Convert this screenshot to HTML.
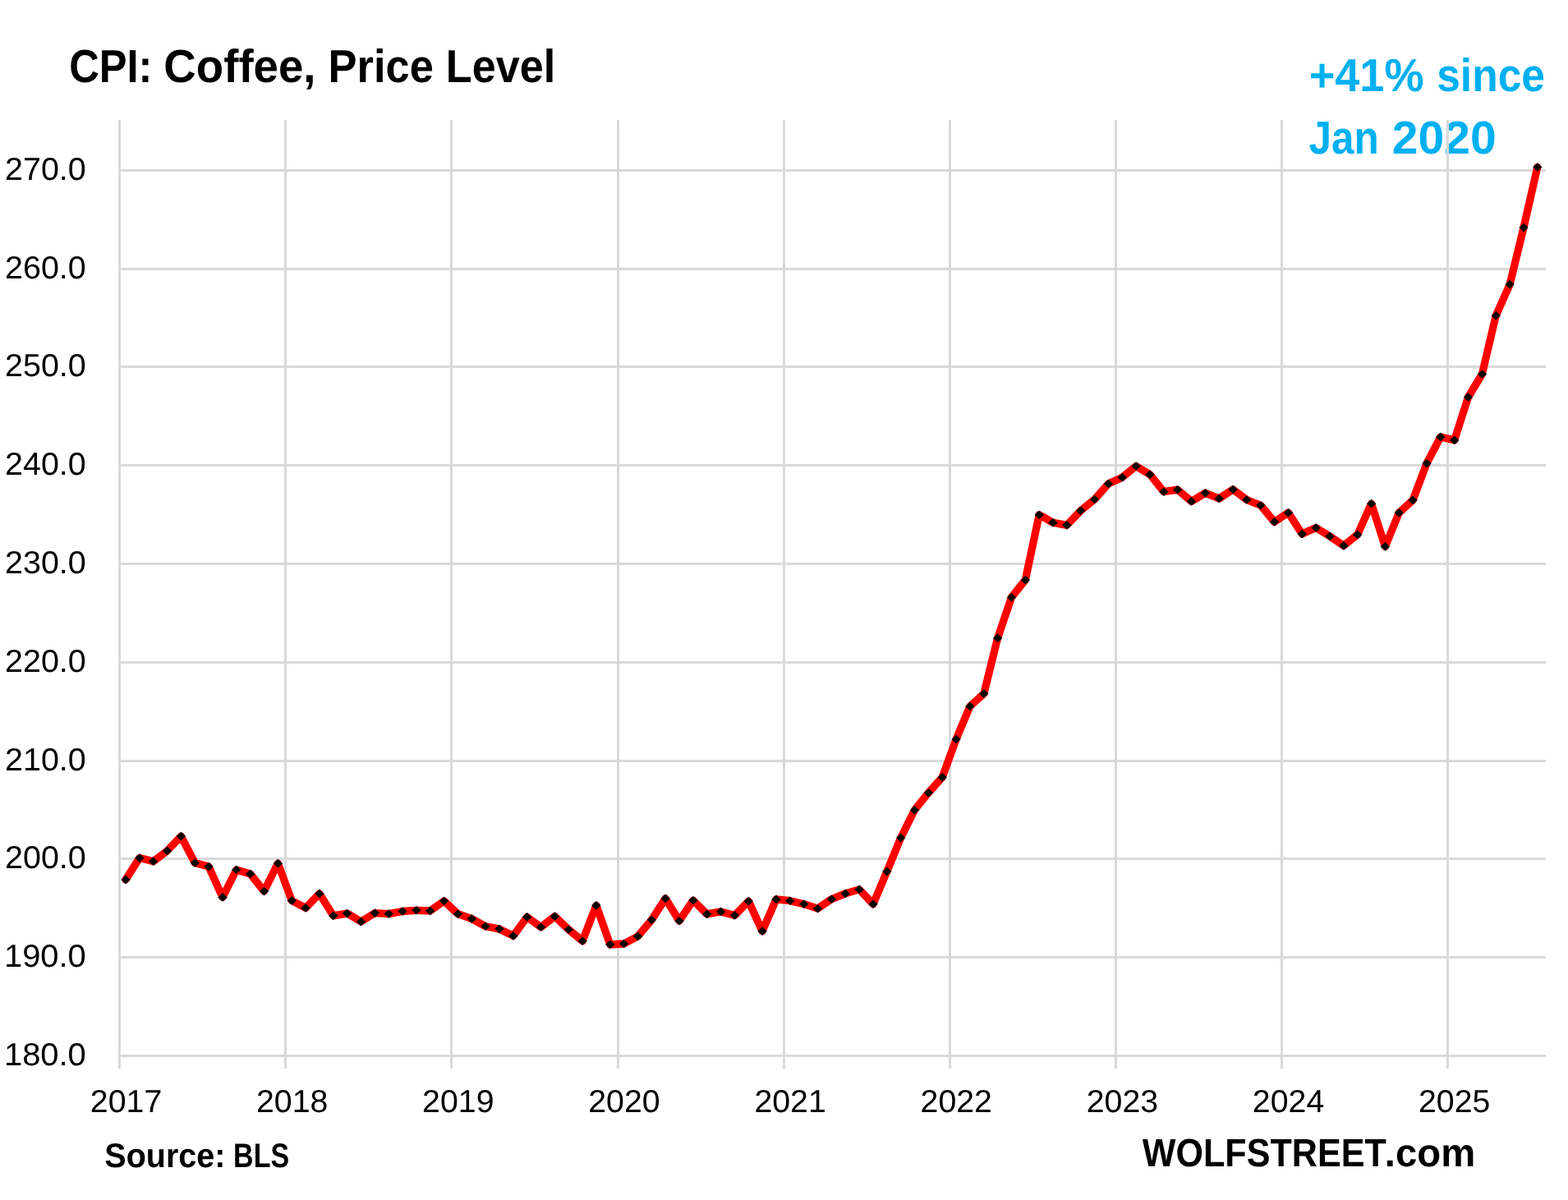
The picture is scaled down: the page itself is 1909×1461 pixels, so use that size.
<!DOCTYPE html><html><head><meta charset="utf-8"><title>CPI: Coffee, Price Level</title>
<style>html,body{margin:0;padding:0;background:#fff;}svg{display:block;}text{font-family:"Liberation Sans",sans-serif;font-kerning:none;white-space:pre;text-rendering:geometricPrecision;}</style></head><body>
<svg width="1909" height="1461" viewBox="0 0 1909 1461">
<rect width="1909" height="1461" fill="#fff"/>
<g font-weight="bold" fill="#00B0F0" font-size="56.5">
<text y="110.7"><tspan x="1593.63" textLength="140.00" lengthAdjust="spacingAndGlyphs">+41%</tspan> <tspan x="1749.19" textLength="131.77" lengthAdjust="spacingAndGlyphs">since</tspan></text>
<text y="187.4"><tspan x="1593.45" textLength="85.11" lengthAdjust="spacingAndGlyphs">Jan</tspan> <tspan x="1694.82" textLength="126.92" lengthAdjust="spacingAndGlyphs">2020</tspan></text>
</g>
<g stroke="#D9D9D9" stroke-width="3" fill="none" shape-rendering="crispEdges">
<line x1="144" y1="207.50" x2="1882" y2="207.50"/>
<line x1="144" y1="327.50" x2="1882" y2="327.50"/>
<line x1="144" y1="446.50" x2="1882" y2="446.50"/>
<line x1="144" y1="566.50" x2="1882" y2="566.50"/>
<line x1="144" y1="686.50" x2="1882" y2="686.50"/>
<line x1="144" y1="806.50" x2="1882" y2="806.50"/>
<line x1="144" y1="926.50" x2="1882" y2="926.50"/>
<line x1="144" y1="1045.50" x2="1882" y2="1045.50"/>
<line x1="144" y1="1165.50" x2="1882" y2="1165.50"/>
<line x1="144" y1="1285.50" x2="1882" y2="1285.50"/>
<line x1="145.50" y1="146" x2="145.50" y2="1300.5"/>
<line x1="347.50" y1="146" x2="347.50" y2="1300.5"/>
<line x1="549.50" y1="146" x2="549.50" y2="1300.5"/>
<line x1="752.50" y1="146" x2="752.50" y2="1300.5"/>
<line x1="954.50" y1="146" x2="954.50" y2="1300.5"/>
<line x1="1156.50" y1="146" x2="1156.50" y2="1300.5"/>
<line x1="1358.50" y1="146" x2="1358.50" y2="1300.5"/>
<line x1="1560.50" y1="146" x2="1560.50" y2="1300.5"/>
<line x1="1762.50" y1="146" x2="1762.50" y2="1300.5"/>
</g>
<g font-size="38.8" fill="#000">
<text y="218.80"><tspan x="6.02" textLength="98.73" lengthAdjust="spacingAndGlyphs">270.0</tspan></text>
<text y="338.59"><tspan x="6.02" textLength="98.73" lengthAdjust="spacingAndGlyphs">260.0</tspan></text>
<text y="458.38"><tspan x="6.02" textLength="98.73" lengthAdjust="spacingAndGlyphs">250.0</tspan></text>
<text y="578.17"><tspan x="6.02" textLength="98.73" lengthAdjust="spacingAndGlyphs">240.0</tspan></text>
<text y="697.96"><tspan x="6.02" textLength="98.73" lengthAdjust="spacingAndGlyphs">230.0</tspan></text>
<text y="817.75"><tspan x="6.02" textLength="98.73" lengthAdjust="spacingAndGlyphs">220.0</tspan></text>
<text y="937.54"><tspan x="6.02" textLength="98.73" lengthAdjust="spacingAndGlyphs">210.0</tspan></text>
<text y="1057.33"><tspan x="6.02" textLength="98.73" lengthAdjust="spacingAndGlyphs">200.0</tspan></text>
<text y="1177.12"><tspan x="4.96" textLength="99.80" lengthAdjust="spacingAndGlyphs">190.0</tspan></text>
<text y="1296.91"><tspan x="4.96" textLength="99.80" lengthAdjust="spacingAndGlyphs">180.0</tspan></text>
<text y="1353.9"><tspan x="109.85" textLength="87.42" lengthAdjust="spacingAndGlyphs">2017</tspan></text>
<text y="1353.9"><tspan x="311.99" textLength="87.42" lengthAdjust="spacingAndGlyphs">2018</tspan></text>
<text y="1353.9"><tspan x="514.13" textLength="87.42" lengthAdjust="spacingAndGlyphs">2019</tspan></text>
<text y="1353.9"><tspan x="716.27" textLength="87.42" lengthAdjust="spacingAndGlyphs">2020</tspan></text>
<text y="1353.9"><tspan x="918.41" textLength="87.42" lengthAdjust="spacingAndGlyphs">2021</tspan></text>
<text y="1353.9"><tspan x="1120.55" textLength="87.42" lengthAdjust="spacingAndGlyphs">2022</tspan></text>
<text y="1353.9"><tspan x="1322.69" textLength="87.42" lengthAdjust="spacingAndGlyphs">2023</tspan></text>
<text y="1353.9"><tspan x="1524.83" textLength="87.42" lengthAdjust="spacingAndGlyphs">2024</tspan></text>
<text y="1353.9"><tspan x="1726.97" textLength="87.42" lengthAdjust="spacingAndGlyphs">2025</tspan></text>
</g>
<polyline points="153.0,1071.1 169.9,1044.6 186.7,1048.7 203.6,1035.9 220.4,1018.1 237.3,1050.6 254.1,1055.1 271.0,1092.4 287.8,1059.0 304.7,1064.0 321.5,1085.0 338.4,1051.2 355.2,1096.5 372.1,1105.4 388.9,1088.0 405.8,1114.9 422.6,1112.1 439.5,1122.1 456.3,1111.6 473.2,1112.6 490.0,1109.5 506.9,1108.3 523.7,1109.0 540.6,1097.0 557.4,1112.7 574.3,1118.6 591.1,1127.8 608.0,1131.1 624.8,1139.4 641.7,1116.4 658.5,1128.7 675.4,1115.7 692.2,1131.7 709.1,1145.7 725.9,1102.4 742.8,1150.0 759.6,1149.0 776.5,1140.0 793.3,1120.0 810.2,1093.9 827.0,1121.2 843.9,1096.2 860.7,1112.9 877.6,1109.9 894.4,1114.4 911.3,1097.2 928.1,1133.7 945.0,1094.9 961.8,1096.7 978.7,1100.7 995.5,1106.2 1012.4,1094.7 1029.3,1087.9 1046.1,1082.9 1063.0,1100.8 1079.8,1061.1 1096.7,1020.1 1113.5,986.2 1130.4,965.2 1147.2,946.4 1164.1,900.0 1180.9,859.9 1197.8,844.6 1214.6,776.9 1231.5,727.2 1248.3,706.2 1265.2,626.7 1282.0,636.4 1298.9,639.4 1315.7,621.7 1332.6,608.0 1349.4,589.0 1366.3,581.2 1383.1,567.5 1400.0,577.7 1416.8,598.7 1433.7,596.2 1450.5,610.4 1467.4,600.2 1484.2,607.0 1501.1,595.9 1517.9,608.5 1534.8,615.3 1551.6,635.4 1568.5,624.2 1585.3,650.1 1602.2,642.6 1619.0,652.9 1635.9,664.4 1652.7,650.9 1669.6,613.2 1686.4,665.4 1703.3,624.2 1720.1,608.9 1737.0,564.2 1753.8,532.0 1770.7,535.9 1787.5,483.5 1804.4,455.5 1821.2,384.3 1838.1,346.3 1855.0,277.1 1871.8,203.5" fill="none" stroke="#FF0000" stroke-width="9.3" stroke-linejoin="round" stroke-linecap="round"/>
<path d="M153.0 1065.8l5.7 5.3l-5.7 5.3l-5.7 -5.3zM169.9 1039.3l5.7 5.3l-5.7 5.3l-5.7 -5.3zM186.7 1043.4l5.7 5.3l-5.7 5.3l-5.7 -5.3zM203.6 1030.6l5.7 5.3l-5.7 5.3l-5.7 -5.3zM220.4 1012.8l5.7 5.3l-5.7 5.3l-5.7 -5.3zM237.3 1045.3l5.7 5.3l-5.7 5.3l-5.7 -5.3zM254.1 1049.8l5.7 5.3l-5.7 5.3l-5.7 -5.3zM271.0 1087.1l5.7 5.3l-5.7 5.3l-5.7 -5.3zM287.8 1053.7l5.7 5.3l-5.7 5.3l-5.7 -5.3zM304.7 1058.7l5.7 5.3l-5.7 5.3l-5.7 -5.3zM321.5 1079.7l5.7 5.3l-5.7 5.3l-5.7 -5.3zM338.4 1045.9l5.7 5.3l-5.7 5.3l-5.7 -5.3zM355.2 1091.2l5.7 5.3l-5.7 5.3l-5.7 -5.3zM372.1 1100.1l5.7 5.3l-5.7 5.3l-5.7 -5.3zM388.9 1082.7l5.7 5.3l-5.7 5.3l-5.7 -5.3zM405.8 1109.6l5.7 5.3l-5.7 5.3l-5.7 -5.3zM422.6 1106.8l5.7 5.3l-5.7 5.3l-5.7 -5.3zM439.5 1116.8l5.7 5.3l-5.7 5.3l-5.7 -5.3zM456.3 1106.3l5.7 5.3l-5.7 5.3l-5.7 -5.3zM473.2 1107.3l5.7 5.3l-5.7 5.3l-5.7 -5.3zM490.0 1104.2l5.7 5.3l-5.7 5.3l-5.7 -5.3zM506.9 1103.0l5.7 5.3l-5.7 5.3l-5.7 -5.3zM523.7 1103.7l5.7 5.3l-5.7 5.3l-5.7 -5.3zM540.6 1091.7l5.7 5.3l-5.7 5.3l-5.7 -5.3zM557.4 1107.4l5.7 5.3l-5.7 5.3l-5.7 -5.3zM574.3 1113.3l5.7 5.3l-5.7 5.3l-5.7 -5.3zM591.1 1122.5l5.7 5.3l-5.7 5.3l-5.7 -5.3zM608.0 1125.8l5.7 5.3l-5.7 5.3l-5.7 -5.3zM624.8 1134.1l5.7 5.3l-5.7 5.3l-5.7 -5.3zM641.7 1111.1l5.7 5.3l-5.7 5.3l-5.7 -5.3zM658.5 1123.4l5.7 5.3l-5.7 5.3l-5.7 -5.3zM675.4 1110.4l5.7 5.3l-5.7 5.3l-5.7 -5.3zM692.2 1126.4l5.7 5.3l-5.7 5.3l-5.7 -5.3zM709.1 1140.4l5.7 5.3l-5.7 5.3l-5.7 -5.3zM725.9 1097.1l5.7 5.3l-5.7 5.3l-5.7 -5.3zM742.8 1144.7l5.7 5.3l-5.7 5.3l-5.7 -5.3zM759.6 1143.7l5.7 5.3l-5.7 5.3l-5.7 -5.3zM776.5 1134.7l5.7 5.3l-5.7 5.3l-5.7 -5.3zM793.3 1114.7l5.7 5.3l-5.7 5.3l-5.7 -5.3zM810.2 1088.6l5.7 5.3l-5.7 5.3l-5.7 -5.3zM827.0 1115.9l5.7 5.3l-5.7 5.3l-5.7 -5.3zM843.9 1090.9l5.7 5.3l-5.7 5.3l-5.7 -5.3zM860.7 1107.6l5.7 5.3l-5.7 5.3l-5.7 -5.3zM877.6 1104.6l5.7 5.3l-5.7 5.3l-5.7 -5.3zM894.4 1109.1l5.7 5.3l-5.7 5.3l-5.7 -5.3zM911.3 1091.9l5.7 5.3l-5.7 5.3l-5.7 -5.3zM928.1 1128.4l5.7 5.3l-5.7 5.3l-5.7 -5.3zM945.0 1089.6l5.7 5.3l-5.7 5.3l-5.7 -5.3zM961.8 1091.4l5.7 5.3l-5.7 5.3l-5.7 -5.3zM978.7 1095.4l5.7 5.3l-5.7 5.3l-5.7 -5.3zM995.5 1100.9l5.7 5.3l-5.7 5.3l-5.7 -5.3zM1012.4 1089.4l5.7 5.3l-5.7 5.3l-5.7 -5.3zM1029.3 1082.6l5.7 5.3l-5.7 5.3l-5.7 -5.3zM1046.1 1077.6l5.7 5.3l-5.7 5.3l-5.7 -5.3zM1063.0 1095.5l5.7 5.3l-5.7 5.3l-5.7 -5.3zM1079.8 1055.8l5.7 5.3l-5.7 5.3l-5.7 -5.3zM1096.7 1014.8l5.7 5.3l-5.7 5.3l-5.7 -5.3zM1113.5 980.9l5.7 5.3l-5.7 5.3l-5.7 -5.3zM1130.4 959.9l5.7 5.3l-5.7 5.3l-5.7 -5.3zM1147.2 941.1l5.7 5.3l-5.7 5.3l-5.7 -5.3zM1164.1 894.7l5.7 5.3l-5.7 5.3l-5.7 -5.3zM1180.9 854.6l5.7 5.3l-5.7 5.3l-5.7 -5.3zM1197.8 839.3l5.7 5.3l-5.7 5.3l-5.7 -5.3zM1214.6 771.6l5.7 5.3l-5.7 5.3l-5.7 -5.3zM1231.5 721.9l5.7 5.3l-5.7 5.3l-5.7 -5.3zM1248.3 700.9l5.7 5.3l-5.7 5.3l-5.7 -5.3zM1265.2 621.4l5.7 5.3l-5.7 5.3l-5.7 -5.3zM1282.0 631.1l5.7 5.3l-5.7 5.3l-5.7 -5.3zM1298.9 634.1l5.7 5.3l-5.7 5.3l-5.7 -5.3zM1315.7 616.4l5.7 5.3l-5.7 5.3l-5.7 -5.3zM1332.6 602.7l5.7 5.3l-5.7 5.3l-5.7 -5.3zM1349.4 583.7l5.7 5.3l-5.7 5.3l-5.7 -5.3zM1366.3 575.9l5.7 5.3l-5.7 5.3l-5.7 -5.3zM1383.1 562.2l5.7 5.3l-5.7 5.3l-5.7 -5.3zM1400.0 572.4l5.7 5.3l-5.7 5.3l-5.7 -5.3zM1416.8 593.4l5.7 5.3l-5.7 5.3l-5.7 -5.3zM1433.7 590.9l5.7 5.3l-5.7 5.3l-5.7 -5.3zM1450.5 605.1l5.7 5.3l-5.7 5.3l-5.7 -5.3zM1467.4 594.9l5.7 5.3l-5.7 5.3l-5.7 -5.3zM1484.2 601.7l5.7 5.3l-5.7 5.3l-5.7 -5.3zM1501.1 590.6l5.7 5.3l-5.7 5.3l-5.7 -5.3zM1517.9 603.2l5.7 5.3l-5.7 5.3l-5.7 -5.3zM1534.8 610.0l5.7 5.3l-5.7 5.3l-5.7 -5.3zM1551.6 630.1l5.7 5.3l-5.7 5.3l-5.7 -5.3zM1568.5 618.9l5.7 5.3l-5.7 5.3l-5.7 -5.3zM1585.3 644.8l5.7 5.3l-5.7 5.3l-5.7 -5.3zM1602.2 637.3l5.7 5.3l-5.7 5.3l-5.7 -5.3zM1619.0 647.6l5.7 5.3l-5.7 5.3l-5.7 -5.3zM1635.9 659.1l5.7 5.3l-5.7 5.3l-5.7 -5.3zM1652.7 645.6l5.7 5.3l-5.7 5.3l-5.7 -5.3zM1669.6 607.9l5.7 5.3l-5.7 5.3l-5.7 -5.3zM1686.4 660.1l5.7 5.3l-5.7 5.3l-5.7 -5.3zM1703.3 618.9l5.7 5.3l-5.7 5.3l-5.7 -5.3zM1720.1 603.6l5.7 5.3l-5.7 5.3l-5.7 -5.3zM1737.0 558.9l5.7 5.3l-5.7 5.3l-5.7 -5.3zM1753.8 526.7l5.7 5.3l-5.7 5.3l-5.7 -5.3zM1770.7 530.6l5.7 5.3l-5.7 5.3l-5.7 -5.3zM1787.5 478.2l5.7 5.3l-5.7 5.3l-5.7 -5.3zM1804.4 450.2l5.7 5.3l-5.7 5.3l-5.7 -5.3zM1821.2 379.0l5.7 5.3l-5.7 5.3l-5.7 -5.3zM1838.1 341.0l5.7 5.3l-5.7 5.3l-5.7 -5.3zM1855.0 271.8l5.7 5.3l-5.7 5.3l-5.7 -5.3zM1871.8 198.2l5.7 5.3l-5.7 5.3l-5.7 -5.3z" fill="#000"/>
<g font-weight="bold" fill="#000">
<text y="100.3" font-size="56.5"><tspan x="84.22" textLength="101.25" lengthAdjust="spacingAndGlyphs">CPI:</tspan> <tspan x="199.36" textLength="185.20" lengthAdjust="spacingAndGlyphs">Coffee,</tspan> <tspan x="399.59" textLength="128.41" lengthAdjust="spacingAndGlyphs">Price</tspan> <tspan x="542.81" textLength="133.38" lengthAdjust="spacingAndGlyphs">Level</tspan></text>
<text y="1420.6" font-size="41.4"><tspan x="127.36" textLength="147.04" lengthAdjust="spacingAndGlyphs">Source:</tspan> <tspan x="284.12" textLength="68.11" lengthAdjust="spacingAndGlyphs">BLS</tspan></text>
<text y="1420.0" font-size="48.1"><tspan x="1390.76" textLength="297.11" lengthAdjust="spacingAndGlyphs">WOLFSTREET</tspan><tspan x="1685.79" textLength="110.45" lengthAdjust="spacingAndGlyphs">.com</tspan></text>
</g>
</svg></body></html>
